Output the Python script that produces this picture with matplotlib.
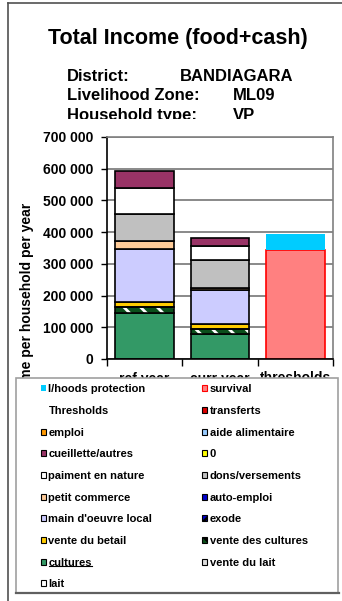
import matplotlib
matplotlib.use("Agg")
import matplotlib.pyplot as plt
from matplotlib.patches import Rectangle
from matplotlib.lines import Line2D
from matplotlib.ticker import FuncFormatter
from matplotlib.transforms import Bbox, TransformedBbox
import numpy as np

plt.rcParams['font.family'] = ['Liberation Sans', 'DejaVu Sans']
plt.rcParams['font.weight'] = 'bold'
plt.rcParams['hatch.linewidth'] = 2.0

categories = ["ref year", "curr year", "thresholds"]

# income sources, stacked from the bottom up
series_names = ["lait", "vente du lait", "cultures", "vente des cultures",
                "vente du betail", "exode", "main d'oeuvre local", "auto-emploi",
                "petit commerce", "dons/versements", "paiment en nature", "0",
                "cueillette/autres", "aide alimentaire", "emploi", "transferts",
                "Thresholds", "survival", "l/hoods protection"]

ref_year = [0, 0, 146000, 17000, 18000, 0, 165000, 0, 27000, 84000, 83000, 0,
            53000, 0, 0, 0, 0, 0, 0]
curr_year = [0, 0, 79000, 16000, 16000, 0, 106000, 0, 8000, 88000, 42000, 0,
             25000, 0, 0, 0, 0, 0, 0]
thresholds = [0, 0, 0, 0, 0, 0, 0, 0, 0, 0, 0, 0, 0, 0, 0, 0, 0, 344000, 51000]

series_colors = ["#FFFFFF", "#DDDDDD", "#339966", "#0B4F1B", "#FFCC00", "#0000CC",
                 "#CCCCFF", "#0000CC", "#FFCC99", "#C0C0C0", "#FFFFFF", "#FFFF00",
                 "#993366", "#99CCFF", "#FF9900", "#DD0000", "none", "#FF8080",
                 "#00CCFF"]
series_edges = ["black"] * 16 + ["none", "#FF0000", "none"]
series_hatch = {"vente des cultures": "\\\\", "exode": "////"}

yticks = [0, 100000, 200000, 300000, 400000, 500000, 600000, 700000]

W, H = 342, 601


def fx(px):
    return px / W


def fy(py):
    return 1 - py / H


fig = plt.figure(figsize=(W / 100, H / 100), dpi=100)

# outer chart frame (top and left edges)
fig.add_artist(Line2D([fx(7.5), 1.0], [fy(2.5), fy(2.5)], color="#505050", lw=1.2))
fig.add_artist(Line2D([fx(7.5), fx(7.5)], [fy(2.5), 0.0], color="#505050", lw=1.2))

ax = fig.add_axes([fx(107), fy(359), fx(333) - fx(107), fy(137) - fy(359)])

x = np.arange(len(categories))
width = 0.78
table = np.array([ref_year, curr_year, thresholds], dtype=float).T
bottoms = np.zeros(len(categories))
for name, vals, face, edge in zip(series_names, table, series_colors, series_edges):
    mask = vals > 0
    if mask.any():
        lw = 0 if edge == "none" else 1.2
        if name in series_hatch:
            ax.bar(x[mask], vals[mask], width, bottom=bottoms[mask], color=face,
                   edgecolor="white", hatch=series_hatch[name], linewidth=0, zorder=2)
            ax.bar(x[mask], vals[mask], width, bottom=bottoms[mask], fill=False,
                   edgecolor=edge, linewidth=lw, zorder=3)
        else:
            ax.bar(x[mask], vals[mask], width, bottom=bottoms[mask], color=face,
                   edgecolor=edge, linewidth=lw, zorder=2)
    bottoms += vals

ax.set_xlim(-0.5, len(categories) - 0.5)
ax.set_ylim(0, 700000)
ax.set_yticks(yticks)
ax.yaxis.set_major_formatter(FuncFormatter(lambda v, p: f"{int(v):,}".replace(",", " ")))
ax.yaxis.grid(True, color="#808080", linewidth=1.3)
ax.set_axisbelow(True)
ax.tick_params(axis="y", length=4, width=1, direction="out", pad=6, labelsize=10)
ax.set_xticks(x)
ax.set_xticklabels(categories)
ax.set_xticks(np.arange(len(categories) + 1) - 0.5, minor=True)
ax.tick_params(axis="x", which="major", length=0, pad=9, labelsize=10)
ax.tick_params(axis="x", which="minor", length=5, width=1, direction="out")
for t in ax.get_yticklabels() + ax.get_xticklabels():
    t.set_fontweight("bold")
ax.spines["left"].set_color("black")
ax.spines["bottom"].set_color("black")
ax.spines["top"].set_color("#808080")
ax.spines["right"].set_color("#808080")
for s in ax.spines.values():
    s.set_linewidth(1.2)

fig.text(fx(27), fy(306), "Income per household per year", rotation=90,
         ha="center", va="center", fontsize=10, fontweight="bold")

# titles
fig.text(fx(177.5), fy(44), "Total Income (food+cash)", ha="center", va="baseline",
         fontsize=15.5, fontweight="bold")
clip = TransformedBbox(Bbox([[0, fy(118.5)], [1, 1]]), fig.transFigure)
info_rows = [("District:", "BANDIAGARA", 180, 81),
             ("Livelihood Zone:", "ML09", 233, 100.5),
             ("Household type:", "VP", 233, 120)]
for lab, val, vx, base in info_rows:
    for tx, s in ((67, lab), (vx, val)):
        t = fig.text(fx(tx), fy(base), s, ha="left", va="baseline",
                     fontsize=12, fontweight="bold")
        t.set_clip_box(clip)
        t.set_clip_on(True)

# legend box
fig.add_artist(Rectangle((fx(16), fy(593)), fx(338) - fx(16), fy(378) - fy(593),
                         transform=fig.transFigure, facecolor="white",
                         edgecolor="#A0A0A0", linewidth=1.2, zorder=5))
fig.add_artist(Line2D([fx(16), fx(339)], [fy(593), fy(593)], color="#606060",
                      lw=1.6, zorder=5.5))

legend_order = list(range(len(series_names)))[::-1]
col_marker_x = [40.5, 201.5]
col_text_x = [48.5, 209.5]
cultures_text = None
for k, idx in enumerate(legend_order):
    row, col = divmod(k, 2)
    cy = 388.3 + 21.67 * row
    name = series_names[idx]
    if series_colors[idx] != "none":
        ec = "black" if name not in ("survival", "l/hoods protection") else series_edges[idx]
        if name == "l/hoods protection":
            ec = "none"
        fig.add_artist(Rectangle((fx(col_marker_x[col]), fy(cy + 3)), fx(6), fx(6) * W / H,
                                 transform=fig.transFigure, facecolor=series_colors[idx],
                                 edgecolor=ec, linewidth=0.8, zorder=6,
                                 hatch=series_hatch.get(name)))
    t = fig.text(fx(col_text_x[col]), fy(cy + 4), name, ha="left", va="baseline",
                 fontsize=8, fontweight="bold", zorder=7)
    if name == "cultures":
        cultures_text = t

fig.canvas.draw()
bb = cultures_text.get_window_extent(fig.canvas.get_renderer())
fig.add_artist(Line2D([bb.x0 / W, bb.x1 / W], [(bb.y0 + 1.5) / H, (bb.y0 + 1.5) / H],
                      color="black", lw=0.8, zorder=7))

fig.savefig("out.png", dpi=100)
